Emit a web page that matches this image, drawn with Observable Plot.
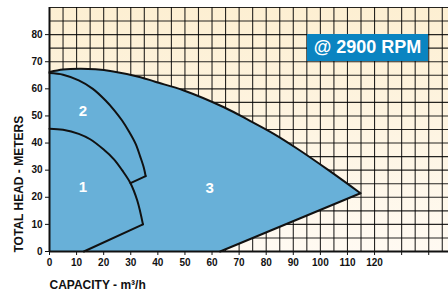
<!DOCTYPE html>
<html><head><meta charset="utf-8">
<script src="https://cdn.jsdelivr.net/npm/d3@7"></script>
<script src="https://cdn.jsdelivr.net/npm/@observablehq/plot@0.6"></script>
<style>
body{margin:0;background:#fff;}
#wrap{position:relative;width:448px;height:294px;overflow:hidden;font-family:"Liberation Sans",Arial,sans-serif;}
#bg{position:absolute;left:49px;top:7px;width:399px;height:244px;background:linear-gradient(#fdefd2,#fffaf2);}
#rpm{position:absolute;left:307px;top:34px;width:121px;height:27px;background:#0a84c1;color:#fff;font-weight:bold;font-size:18px;line-height:27px;text-align:center;}
#chart{position:absolute;left:0;top:0;}
</style></head><body>
<div id="wrap"><div id="bg"></div><div id="chart"></div><div id="rpm">@ 2900 RPM</div></div>
<script>
// Axis ticks
const xTicks = [0,10,20,30,40,50,60,70,80,90,100,110,120,130,140];
const xTickLabels = ["0","10","20","30","40","50","60","70","80","90","100","110","120","",""];
const yTicks = [0,10,20,30,40,50,60,70,80];
const gridX = [5,10,15,20,25,30,35,40,45,50,55,60,65,70,75,80,85,90,95,100,105,110,115,120,125,130,135,140,145];
const gridY = [5,10,15,20,25,30,35,40,45,50,55,60,65,70,75,80,85,90];

// Outer curve (region 3 top)
const outerX = [0, 5, 11, 17, 23, 33.6, 39, 49.6, 64.4, 74, 82.8, 91.5, 103, 114.8];
const outerY = [66.2, 67.1, 67.4, 67.2, 66.5, 64.3, 62.6, 59.4, 53.2, 48.2, 43.4, 37.9, 30, 21.5];
// Region 3 bottom corner on x axis
const base3 = [63, 0];

// Curve 2 (region 2 boundary) and its closing segment
const c2X = [0, 5, 10.8, 16, 20.7, 24, 26.8, 29.5, 31.8, 33.5, 34.8, 35.5];
const c2Y = [65.8, 65.2, 63.1, 60, 55.7, 52, 48.3, 44, 39.7, 35, 31, 27.8];
const c2End = [29.9, 25.2];

// Curve 1 (region 1 boundary) and its closing segment
const c1X = [0, 5, 10.8, 15, 20, 23.8, 26.8, 29.9, 32.4, 34.5];
const c1Y = [45.3, 44.9, 43.4, 41.4, 37.6, 34, 30, 25.2, 18.8, 10];
const base1 = [12.7, 0];

// Region labels
const regionText = ["1", "2", "3"];
const regionX = [12.3, 12.3, 59.1];
const regionY = [23.8, 51.8, 23.5];

const polyX = [...outerX, base3[0], 0];
const polyY = [...outerY, base3[1], 0];

const black = "#111";
const chart = Plot.plot({
  width: 448, height: 294,
  marginTop: 7, marginBottom: 43, marginLeft: 49, marginRight: 0,
  style: {background: "transparent", fontFamily: "Liberation Sans, Arial, sans-serif", fontWeight: "bold", fontSize: "10px", color: black},
  x: {domain: [0, 147.3], ticks: xTicks, tickFormat: d => xTickLabels[xTicks.indexOf(d)], tickSize: 4, tickPadding: 3, label: null},
  y: {domain: [0, 90], ticks: yTicks, tickSize: 4, tickPadding: 3, label: null},
  marks: [
    Plot.ruleX(gridX, {stroke: "#000", strokeWidth: 1.1, strokeOpacity: 0.85}),
    Plot.ruleY(gridY, {stroke: "#000", strokeWidth: 1.1, strokeOpacity: 0.85}),
    Plot.line({length: polyX.length}, {x: polyX, y: polyY, fill: "#68b0d8", stroke: "none"}),
    Plot.line({length: outerX.length}, {x: outerX, y: outerY, curve: "catmull-rom", stroke: black, strokeWidth: 2}),
    Plot.line({length: 2}, {x: [outerX[outerX.length-1], base3[0]], y: [outerY[outerY.length-1], base3[1]], stroke: black, strokeWidth: 2}),
    Plot.line({length: c2X.length}, {x: c2X, y: c2Y, curve: "catmull-rom", stroke: black, strokeWidth: 2}),
    Plot.line({length: 2}, {x: [c2X[c2X.length-1], c2End[0]], y: [c2Y[c2Y.length-1], c2End[1]], stroke: black, strokeWidth: 2}),
    Plot.line({length: c1X.length}, {x: c1X, y: c1Y, curve: "catmull-rom", stroke: black, strokeWidth: 2}),
    Plot.line({length: 2}, {x: [c1X[c1X.length-1], base1[0]], y: [c1Y[c1Y.length-1], base1[1]], stroke: black, strokeWidth: 2}),
    Plot.ruleX([0], {stroke: black, strokeWidth: 2}),
    Plot.ruleY([0], {stroke: black, strokeWidth: 2}),
    Plot.text(regionText, {x: regionX, y: regionY, text: regionText, fill: "#fff", fontSize: 15, fontWeight: "bold"}),
    Plot.text(["CAPACITY - m³/h"], {frameAnchor: "bottom-left", textAnchor: "start", lineAnchor: "middle", dy: 34, fontSize: 12, fontWeight: "bold", fill: black}),
    Plot.text(["TOTAL HEAD - METERS"], {frameAnchor: "bottom-left", rotate: -90, textAnchor: "start", lineAnchor: "middle", dx: -30, dy: 1, fontSize: 12, fontWeight: "bold", fill: black})
  ]
});
document.getElementById("chart").appendChild(chart);
</script>
</body></html>
